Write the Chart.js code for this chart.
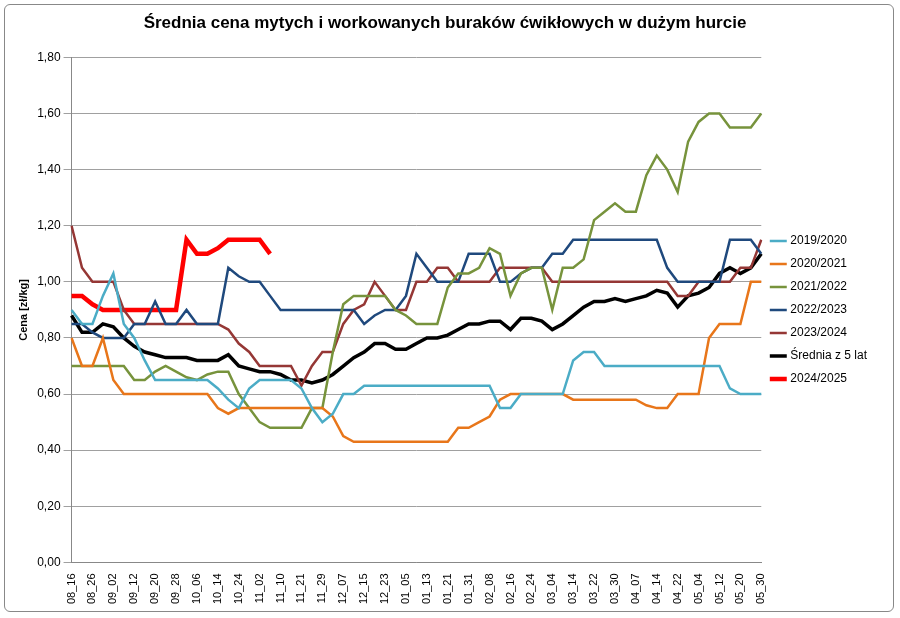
<!DOCTYPE html>
<html>
<head>
<meta charset="utf-8">
<script src="https://cdn.jsdelivr.net/npm/chart.js@4"></script>
<style>
  body { margin: 0; background: #fff; }
  #wrap { position: absolute; left: 4px; top: 4px; width: 888px; height: 606px; border: 1px solid #888; border-radius: 6px; }
</style>
</head>
<body>
<div id="wrap"><canvas id="c" width="888" height="606"></canvas></div>
<script>
var tickLabels = ['08_16','08_26','09_02','09_12','09_20','09_28','10_06','10_14','10_24','11_02','11_10','11_21','11_29',
  '12_07','12_15','12_23','01_05','01_13','01_21','01_31','02_08','02_16','02_24','03_04','03_14','03_22','03_30',
  '04_07','04_14','04_22','05_04','05_12','05_20','05_30'];

var labels = [];
tickLabels.forEach(function(t, i) {
    labels.push(t);
    if (i < tickLabels.length - 1) labels.push('');
});

var s2019 = [0.90,0.85,0.85,0.95,1.03,0.85,0.80,0.72,0.65,0.65,0.65,0.65,0.65,0.65,0.62,0.58,0.55,0.62,0.65,0.65,
  0.65,0.65,0.62,0.55,0.50,0.53,0.60,0.60,0.63,0.63,0.63,0.63,0.63,0.63,0.63,0.63,0.63,0.63,0.63,0.63,
  0.63,0.55,0.55,0.60,0.60,0.60,0.60,0.60,0.72,0.75,0.75,0.70,0.70,0.70,0.70,0.70,0.70,0.70,0.70,0.70,
  0.70,0.70,0.70,0.62,0.60,0.60,0.60];
var s2020 = [0.80,0.70,0.70,0.80,0.65,0.60,0.60,0.60,0.60,0.60,0.60,0.60,0.60,0.60,0.55,0.53,0.55,0.55,0.55,0.55,
  0.55,0.55,0.55,0.55,0.55,0.52,0.45,0.43,0.43,0.43,0.43,0.43,0.43,0.43,0.43,0.43,0.43,0.48,0.48,0.50,
  0.52,0.58,0.60,0.60,0.60,0.60,0.60,0.60,0.58,0.58,0.58,0.58,0.58,0.58,0.58,0.56,0.55,0.55,0.60,0.60,
  0.60,0.80,0.85,0.85,0.85,1.00,1.00];
var s2021 = [0.70,0.70,0.70,0.70,0.70,0.70,0.65,0.65,0.68,0.70,0.68,0.66,0.65,0.67,0.68,0.68,0.60,0.55,0.50,0.48,
  0.48,0.48,0.48,0.55,0.55,0.75,0.92,0.95,0.95,0.95,0.95,0.90,0.88,0.85,0.85,0.85,0.98,1.03,1.03,1.05,
  1.12,1.10,0.95,1.03,1.05,1.05,0.90,1.05,1.05,1.08,1.22,1.25,1.28,1.25,1.25,1.38,1.45,1.40,1.32,1.50,
  1.57,1.60,1.60,1.55,1.55,1.55,1.60];
var s2022 = [0.85,0.85,0.82,0.80,0.80,0.80,0.85,0.85,0.93,0.85,0.85,0.90,0.85,0.85,0.85,1.05,1.02,1.00,1.00,0.95,
  0.90,0.90,0.90,0.90,0.90,0.90,0.90,0.90,0.85,0.88,0.90,0.90,0.95,1.10,1.05,1.00,1.00,1.00,1.10,1.10,
  1.10,1.00,1.00,1.03,1.05,1.05,1.10,1.10,1.15,1.15,1.15,1.15,1.15,1.15,1.15,1.15,1.15,1.05,1.00,1.00,
  1.00,1.00,1.00,1.15,1.15,1.15,1.10];
var s2023 = [1.20,1.05,1.00,1.00,1.00,0.90,0.85,0.85,0.85,0.85,0.85,0.85,0.85,0.85,0.85,0.83,0.78,0.75,0.70,0.70,
  0.70,0.70,0.63,0.70,0.75,0.75,0.85,0.90,0.92,1.00,0.95,0.90,0.90,1.00,1.00,1.05,1.05,1.00,1.00,1.00,
  1.00,1.05,1.05,1.05,1.05,1.05,1.00,1.00,1.00,1.00,1.00,1.00,1.00,1.00,1.00,1.00,1.00,1.00,0.95,0.95,
  1.00,1.00,1.00,1.00,1.05,1.05,1.15];
var sAvg = [0.88,0.82,0.82,0.85,0.84,0.80,0.77,0.75,0.74,0.73,0.73,0.73,0.72,0.72,0.72,0.74,0.70,0.69,0.68,0.68,
  0.67,0.65,0.65,0.64,0.65,0.67,0.70,0.73,0.75,0.78,0.78,0.76,0.76,0.78,0.80,0.80,0.81,0.83,0.85,0.85,
  0.86,0.86,0.83,0.87,0.87,0.86,0.83,0.85,0.88,0.91,0.93,0.93,0.94,0.93,0.94,0.95,0.97,0.96,0.91,0.95,
  0.96,0.98,1.03,1.05,1.03,1.05,1.10];
var s2024 = [0.95,0.95,0.92,0.90,0.90,0.90,0.90,0.90,0.90,0.90,0.90,1.15,1.10,1.10,1.12,1.15,1.15,1.15,1.15,1.10];

function series(label, data, color, width) {
    return { label: label, data: data, borderColor: color, backgroundColor: color,
             borderWidth: width, pointRadius: 0, tension: 0, fill: false };
}

new Chart(document.getElementById('c'), {
    type: 'line',
    data: {
        labels: labels,
        datasets: [
            series('2019/2020', s2019, '#4bacc6', 2.5),
            series('2020/2021', s2020, '#e8761a', 2.5),
            series('2021/2022', s2021, '#77933c', 2.5),
            series('2022/2023', s2022, '#1f497d', 2.5),
            series('2023/2024', s2023, '#953735', 2.5),
            series('Średnia z 5 lat', sAvg, '#000000', 3.5),
            series('2024/2025', s2024, '#ff0000', 4.5)
        ]
    },
    options: {
        responsive: false,
        animation: false,
        layout: { padding: { top: 8, right: 16, left: 8, bottom: 4 } },
        plugins: {
            title: { display: true, text: 'Średnia cena mytych i workowanych buraków ćwikłowych w dużym hurcie',
                     font: { family: 'Liberation Sans', size: 17, weight: 'bold' }, color: '#000', padding: { bottom: 24 } },
            legend: {
                position: 'right',
                labels: { usePointStyle: true, pointStyle: 'line', boxWidth: 30, padding: 11,
                          font: { family: 'Liberation Sans', size: 12 }, color: '#000' }
            },
            tooltip: { enabled: false }
        },
        scales: {
            x: {
                grid: { display: false },
                border: { color: '#888' },
                ticks: {
                    autoSkip: false, maxRotation: 90, minRotation: 90, color: '#000',
                    font: { family: 'Liberation Sans', size: 11 },
                    callback: function(v, i) { return labels[i]; }
                }
            },
            y: {
                min: 0, max: 1.8,
                border: { color: '#888' },
                grid: { color: '#a0a0a0' },
                title: { display: true, text: 'Cena [zł/kg]', color: '#000', font: { family: 'Liberation Sans', size: 11, weight: 'bold' } },
                ticks: { stepSize: 0.2, color: '#000', font: { family: 'Liberation Sans', size: 12 },
                         callback: function(v) { return v.toFixed(2).replace('.', ','); } }
            }
        }
    }
});
</script>
</body>
</html>
